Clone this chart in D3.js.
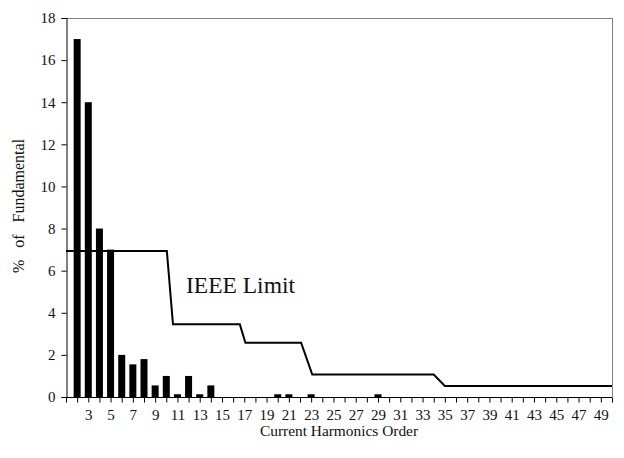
<!DOCTYPE html>
<html>
<head>
<meta charset="utf-8">
<script src="https://cdn.jsdelivr.net/npm/d3@7/dist/d3.min.js"></script>
<style>
  html, body { margin: 0; padding: 0; background: #fff; }
  svg text { font-family: "Liberation Serif", "DejaVu Serif", serif; fill: #111; }
</style>
</head>
<body>
<svg id="chart" width="624" height="458"></svg>
<script>
// ---- data ----
const harmonicOrders = [2, 3, 4, 5, 6, 7, 8, 9, 10, 11, 12, 13, 14, 15, 16, 17, 18, 19, 20, 21, 22, 23, 24, 25, 26, 27, 28, 29, 30];
const harmonicValues = [17, 14, 8, 7, 2, 1.55, 1.8, 0.55, 1, 0.13, 1, 0.13, 0.55, 0, 0, 0, 0, 0, 0.13, 0.13, 0, 0.13, 0, 0, 0, 0, 0, 0.13, 0];
const limitX = [1, 10.05, 10.6, 16.6, 17.1, 22.1, 23.1, 34, 35, 50];
const limitY = [6.93, 6.93, 3.45, 3.45, 2.58, 2.58, 1.07, 1.07, 0.52, 0.52];
const yTicks = [0, 2, 4, 6, 8, 10, 12, 14, 16, 18];
const xTickLabels = [3, 5, 7, 9, 11, 13, 15, 17, 19, 21, 23, 25, 27, 29, 31, 33, 35, 37, 39, 41, 43, 45, 47, 49];
const xTickMarks = d3.range(1, 51);
const xTitle = "Current Harmonics Order";
const yTitle = "%   of   Fundamental";
const limitLabel = "IEEE Limit";

// ---- layout ----
const svg = d3.select("#chart");
const L = 66, R = 612, T = 18, B = 397;
const x = d3.scaleLinear().domain([1, 50]).range([L, R]);
const y = d3.scaleLinear().domain([0, 18]).range([B, T]);
const serif = '"Liberation Serif", "DejaVu Serif", serif';

// frame (top & right grey)
svg.append("line").attr("x1", L).attr("x2", R).attr("y1", T + 0.5).attr("y2", T + 0.5)
  .attr("stroke", "#808080").attr("stroke-width", 1);
svg.append("line").attr("x1", R + 0.5).attr("x2", R + 0.5).attr("y1", T).attr("y2", B)
  .attr("stroke", "#808080").attr("stroke-width", 1);

// bars
const barW = 7;
svg.append("g").selectAll("rect")
  .data(harmonicOrders.map((h, i) => ({ h, v: harmonicValues[i] })).filter(d => d.v > 0))
  .join("rect")
  .attr("x", d => x(d.h) - barW / 2)
  .attr("y", d => y(d.v))
  .attr("width", barW)
  .attr("height", d => B - y(d.v))
  .attr("fill", "#000");

// limit line
const line = d3.line().x((d, i) => x(limitX[i])).y(d => y(d));
svg.append("path").datum(limitY)
  .attr("d", line)
  .attr("fill", "none").attr("stroke", "#000").attr("stroke-width", 2);

// y axis
const yAxis = d3.axisLeft(y).tickValues(yTicks).tickSize(5).tickPadding(6);
const gy = svg.append("g").attr("transform", `translate(${L + 0.5},0)`).call(yAxis)
  .attr("font-family", serif).attr("font-size", 15);
gy.select(".domain").attr("stroke", "#000");
gy.selectAll(".tick line").attr("stroke", "#000");
gy.selectAll("text").style("font-family", serif).style("font-size", "15px").attr("fill", "#111");

// x axis
const xAxis = d3.axisBottom(x).tickValues(xTickMarks).tickSize(5)
  .tickFormat(d => xTickLabels.includes(d) ? d : "").tickPadding(7);
const gx = svg.append("g").attr("transform", `translate(0,${B + 0.5})`).call(xAxis)
  .attr("font-family", serif).attr("font-size", 15);
gx.select(".domain").attr("stroke", "#000").attr("d", `M${L},0H${R}`);
gx.selectAll(".tick line").attr("stroke", "#000");
gx.selectAll("text").style("font-family", serif).style("font-size", "15px").attr("fill", "#111");

// titles
svg.append("text").attr("x", 339).attr("y", 436).attr("text-anchor", "middle")
  .style("font-size", "15.4px").text(xTitle);
svg.append("text").attr("transform", "translate(24,206) rotate(-90)").attr("text-anchor", "middle")
  .style("font-size", "16px").style("white-space", "pre").text(yTitle);
svg.append("text").attr("x", 186).attr("y", 293).style("font-size", "23.5px").text(limitLabel);
</script>
</body>
</html>
